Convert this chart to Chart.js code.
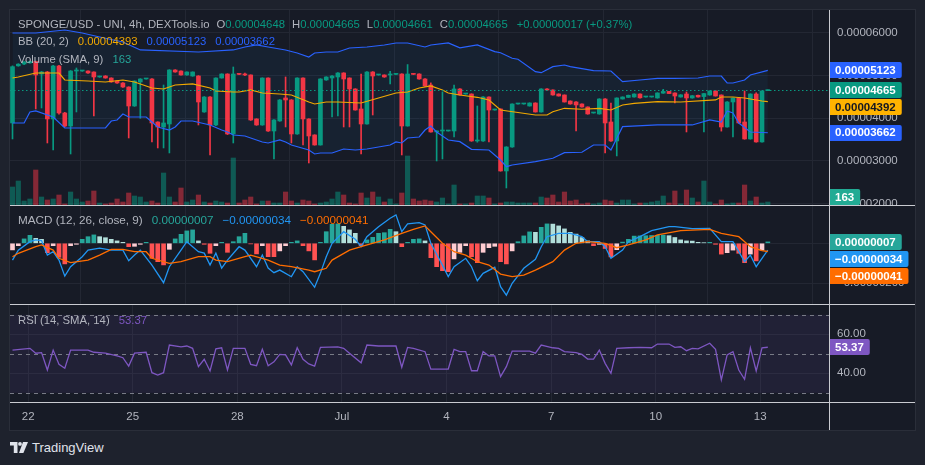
<!DOCTYPE html>
<html>
<head>
<meta charset="utf-8">
<script src="https://cdn.jsdelivr.net/npm/chart.js@4.4.1/dist/chart.umd.min.js"></script>
<style>
  html, body { margin: 0; padding: 0; background: #1e222d; }
  #wrap { position: relative; width: 925px; height: 465px; background: #1e222d; overflow: hidden; font-family: "Liberation Sans", Arial, sans-serif; }
  #frame { position: absolute; left: 10px; top: 10px; width: 905px; height: 420px; background: #171b26; box-shadow: 0 0 0 1px #2a2e39; }
  canvas { position: absolute; left: 10px; }
  .sep { position: absolute; background: #c9cbd1; }
  .lg { position: absolute; left: 18px; font-size: 11.3px; line-height: 14px; color: #b2b5be; white-space: nowrap; }
  .lg .k { margin-left: 7px; }
  .lg .v { margin-left: 9px; }
  .lg.wide { font-size: 11.7px; }
  .logo { position: absolute; left: 10px; top: 440px; display: flex; align-items: center; color: #e0e3eb; font-size: 13px; }
  .logo svg { margin-right: 4px; }
</style>
</head>
<body>
<div id="wrap">
  <div id="frame"></div>
  <canvas id="price" width="905" height="195" style="top:10px"></canvas>
  <canvas id="macd" width="905" height="98" style="top:206px"></canvas>
  <canvas id="rsi" width="905" height="125" style="top:305px"></canvas>

  <div class="sep" style="left:10px; top:205px; width:905px; height:1px"></div>
  <div class="sep" style="left:10px; top:304px; width:905px; height:1px"></div>
  <div class="sep" style="left:10px; top:402px; width:905px; height:1px"></div>
  <div class="sep" style="left:829px; top:10px; width:1px; height:420px"></div>

  <div class="lg" style="top:17px">SPONGE/USD - UNI, 4h, DEXTools.io<span class="k">O</span><span style="color:#089981">0.00004648</span><span class="k">H</span><span style="color:#089981">0.00004665</span><span class="k">L</span><span style="color:#089981">0.00004661</span><span class="k">C</span><span style="color:#089981">0.00004665</span><span class="v" style="color:#089981">+0.00000017 (+0.37%)</span></div>
  <div class="lg" style="top:34px">BB (20, 2)<span class="v" style="color:#f2a900">0.00004393</span><span class="v" style="color:#2962ff">0.00005123</span><span class="v" style="color:#2962ff">0.00003662</span></div>
  <div class="lg" style="top:52px">Volume (SMA, 9)<span class="v" style="color:#26a69a">163</span></div>
  <div class="lg wide" style="top:213px">MACD (12, 26, close, 9)<span class="v" style="color:#26a69a">0.00000007</span><span class="v" style="color:#2196f3">−0.00000034</span><span class="v" style="color:#ff6d00">−0.00000041</span></div>
  <div class="lg" style="top:313px">RSI (14, SMA, 14)<span class="v" style="color:#7e57c2">53.37</span></div>

  <div class="logo">
    <svg width="18" height="11" viewBox="0 0 18 11"><path d="M0 0H7.5V11H3.8V3.6H0Z" fill="#e0e3eb"/><circle cx="10" cy="1.9" r="1.9" fill="#e0e3eb"/><path d="M13 0H18L13.4 11H9Z" fill="#e0e3eb"/></svg>
    <span>TradingView</span>
  </div>
</div>
<script>
// x axis: bar index, ticks at day boundaries
const tickIdx = [2.7, 20.7, 38.7, 56.7, 74.7, 92.7, 110.7, 128.7]
const tickLabels = ["22", "25", "28", "Jul", "4", "7", "10", "13"]
const priceTicks = [2000, 3000, 4000, 5000, 6000]
const macdTicks = [-200, 0]
const rsiTicks = [40, 60]

// 4h candles, prices in 1e-8 USD
const opens = [3891,5230,5273,5300,5330,5039,5086,3985,5227,4125, 3820,5109,5109,5109,5086,4969,4992,4945,4875,4828, 4734,4289,4852,4922,4922,3914,3797,3867,5133,5109, 5016,4992,4992,4149,4500,3844,4945,5039,3633,5039, 5039,5016,3985,3844,4945,3703,3938,4477,4430,3633, 4945,3985,3610,3375,4899,4945,4969,5063,4945,4688, 4219,3867,5086,5016,5016,5016,5030,5039,3820,5039, 5039,4922,4781,3680,3703,3703,3703,4688,4570,4570, 3469,3469,4500,4195,4219,2766,3328,4336,4336,4289, 4359,4149,4688,4664,4570,4547,4406,4383,4336,4266, 4125,4102,4453,3914,3469,4453,4490,4500,4570,4500, 4500,4477,4590,4630,4594,4500,4570,4477,4540,4510, 4547,4641,4547,3797,4383,4477,3914,3516,4570,3446, 4648]
const highs = [5230,5280,5330,5340,5340,5100,5100,5240,5240,4140, 5120,5180,5125,5115,5090,4990,5000,4950,4880,4835, 4740,4880,4930,4940,4930,3920,4781,5140,5140,5115, 5090,5090,5000,4510,4510,4950,5045,5045,5203,5045, 5063,5020,3990,4950,4950,3970,4440,4969,4440,4950, 4950,3990,3615,4930,4975,5000,5070,5070,4950,4695, 5039,5095,5095,5030,5020,5100,5045,5045,5260,5045, 5045,4930,4830,3710,4620,3715,4781,4695,4580,4575, 4289,4510,4505,4215,4225,3335,4340,4345,4350,4365, 4365,4695,4695,4670,4575,4550,4410,4390,4340,4270, 4135,4460,4460,4359,4480,4505,4545,4575,4575,4510, 4510,4600,4680,4635,4600,4555,4617,4535,4545,4585, 4645,4645,4550,4390,4480,4480,4641,4575,4600,4645, 4665]
const lows = [3516,5220,5260,5290,4219,4242,3422,3258,4100,3800, 3164,4149,5100,5055,4055,4960,4940,4845,4820,4725, 3539,4280,4000,4915,3446,3305,3305,3188,5080,5010, 5010,4985,3844,4140,3141,3830,4940,3620,3422,5025, 5000,3950,3835,3835,3695,3047,3930,3797,3422,3625, 3375,2953,3370,3370,4890,4031,4055,3797,3797,4190, 3164,3860,4078,5010,4960,4805,5025,3141,3815,5025, 4915,4750,3675,3000,3047,3700,3563,4540,4565,3460, 3440,3460,3446,4190,2760,2367,3320,4330,4330,4285, 4145,4145,4660,4540,4520,4380,4330,3703,4260,4095, 4120,4095,3188,3460,3118,4450,4485,4495,4475,4495, 4495,4470,4585,4575,4359,4495,3680,4470,4495,3680, 4540,4520,3700,3790,3563,3885,3510,3510,3440,3440, 4648]
const closes = [5210,5270,5320,5330,5016,5086,3985,5227,4125,3820, 5109,5118,5118,5063,4969,4980,4945,4852,4828,4734, 4289,4875,4922,4932,3891,3797,3891,5133,5086,5016, 5086,5086,4383,4500,3844,4945,5039,3633,5039,5030, 5016,3961,3844,4945,3703,3961,4430,4430,3633,4945, 3985,3586,3375,4922,4969,4992,5063,4922,4688,4195, 3867,5086,4992,5022,4969,5022,5040,3820,5039,5030, 4922,4758,3680,3703,3712,3712,4688,4547,4577,3469, 3480,4500,4195,4210,2766,3328,4336,4342,4345,4359, 4149,4688,4664,4547,4523,4383,4336,4313,4266,4102, 4132,4453,3891,3469,4477,4500,4540,4570,4480,4506, 4506,4594,4630,4580,4523,4550,4477,4530,4500,4580, 4641,4523,3797,4383,4477,3891,3516,4570,3446,4641, 4665]
const volumes = [360,480,80,120,700,160,100,120,200,20, 260,120,60,80,280,40,20,40,120,60, 240,180,160,60,80,40,640,160,60,340, 60,100,200,60,40,80,60,40,940,40, 100,160,20,80,80,40,40,260,80,40, 100,80,20,40,60,120,260,200,40,20, 240,140,260,160,60,120,20,240,980,120, 80,100,80,60,140,20,400,20,20,40, 180,180,140,20,40,60,60,40,40,40, 40,160,140,200,60,260,80,100,20,40, 20,40,100,80,40,100,100,20,40,40, 60,80,180,40,280,20,300,140,60,480, 60,20,100,20,40,40,400,80,160,40, 60]

// Bollinger bands [bar, price 1e-8]
const bbUpper = [[0,6000],[4,6000],[9,6070],[12,6000],[15,5906],[19,5789],[22,5602],[32,5555],[38,5602],[40,5672],[42,5719],[44,5672],[47,5602],[49,5531],[51,5437],[52,5531],[54,5555],[56,5555],[58,5648],[61,5672],[64,5719],[66,5766],[68,5766],[71,5672],[72,5719],[75,5766],[77,5650],[80,5719],[83,5562],[84,5538],[86,5407],[87,5384],[90,5093],[91,5069],[93,5210],[95,5250],[96,5210],[100,5116],[103,5109],[105,4858],[108,4898],[111,4938],[114,4938],[118,4945],[120,4992],[122,4992],[123,4828],[124,4828],[126,4898],[127,5016],[130,5123]]
const bbBasis = [[0,4945],[1,4969],[4,5062],[8,5062],[9,4898],[13,4875],[16,4851],[19,4898],[21,4851],[24,4711],[26,4687],[28,4781],[31,4805],[34,4711],[35,4640],[38,4617],[39,4617],[41,4664],[43,4594],[46,4570],[48,4547],[51,4383],[52,4336],[54,4383],[56,4383],[60,4359],[63,4476],[66,4594],[68,4617],[70,4711],[72,4758],[74,4664],[75,4594],[77,4547],[80,4493],[82,4430],[84,4195],[90,4078],[92,4078],[93,4155],[95,4235],[98,4212],[101,4235],[103,4195],[105,4312],[107,4352],[111,4390],[115,4383],[121,4430],[122,4500],[124,4500],[126,4476],[129,4406],[130,4392]]
const bbLower = [[0,3890],[2,3890],[3,4148],[4,4172],[7,4031],[9,3773],[16,3773],[17,3937],[18,3961],[19,4101],[20,4031],[23,4031],[24,3914],[25,3797],[27,3726],[28,3797],[29,3937],[31,3937],[34,3844],[36,3726],[37,3679],[38,3609],[40,3586],[43,3445],[44,3422],[46,3492],[47,3445],[48,3375],[51,3257],[52,3164],[53,3187],[55,3187],[57,3281],[59,3257],[61,3281],[63,3328],[65,3375],[66,3445],[67,3422],[68,3539],[70,3562],[71,3726],[72,3820],[73,3679],[75,3492],[77,3452],[79,3274],[82,3257],[84,3023],[85,2866],[86,2906],[90,2983],[93,3063],[95,3194],[98,3204],[100,3375],[102,3375],[103,3257],[105,3804],[111,3844],[117,3844],[120,3961],[122,3914],[123,4172],[124,4125],[125,3890],[127,3679],[130,3662]]

// MACD, 1e-8 units
const macdHist = [-33,-12,22,40,25,20,-47,-12,-70,-103, -12,-5,20,33,42,33,28,20,12,5, -17,-15,-5,5,-75,-92,-108,-30,22,45, 62,67,12,-5,-50,-12,5,-45,8,33, 50,-3,-53,-12,-67,-67,-38,-12,5,12, -12,-38,-83,5,58,95,97,85,67,50, -12,17,30,50,53,70,58,-17,5,20, 22,12,-72,-117,-137,-142,-78,-45,-12,-67, -97,-45,-22,-15,-92,-103,-38,8,37,57, 55,80,97,96,87,72,55,46,29,12, -12,-5,-26,-68,-32,6,20,36,37,38, 39,40,41,38,29,17,12,11,5,3, 5,-5,-54,-47,-34,-50,-97,-54,-88,-34, 7]
const macdLine = [[0,-84],[1,-34],[3,8],[4,17],[5,13],[6,-59],[7,-42],[8,-84],[9,-164],[10,-117],[12,-67],[13,-34],[15,-24],[17,-34],[19,-34],[20,-87],[21,-59],[22,-34],[24,-109],[26,-197],[27,-117],[29,-34],[30,8],[32,-42],[33,-49],[34,-109],[35,-49],[36,-124],[37,-84],[39,-17],[40,-34],[42,-117],[43,-59],[44,-124],[45,-147],[46,-134],[48,-167],[49,-117],[50,-142],[52,-220],[53,-149],[54,-67],[55,0],[57,58],[59,20],[60,-17],[61,33],[63,83],[65,125],[66,142],[67,58],[68,97],[70,103],[71,92],[72,0],[74,-109],[75,-167],[76,-117],[78,-75],[79,-117],[80,-187],[81,-150],[83,-120],[84,-217],[85,-259],[86,-200],[88,-125],[90,-80],[91,-17],[92,33],[94,50],[96,50],[98,33],[99,8],[101,8],[102,-17],[103,-75],[105,-34],[106,8],[108,33],[110,63],[113,83],[114,83],[117,73],[120,75],[122,8],[124,8],[125,-42],[126,-92],[127,-59],[128,-117],[129,-75],[130,-34]]
const signalLine = [[0,-67],[1,-50],[4,-17],[5,-8],[7,-34],[8,-75],[10,-97],[13,-84],[15,-59],[17,-30],[19,-30],[21,-42],[23,-42],[24,-75],[27,-100],[29,-92],[32,-67],[34,-67],[35,-84],[37,-92],[40,-67],[41,-59],[44,-84],[46,-109],[48,-117],[51,-134],[52,-142],[54,-125],[55,-84],[58,-34],[60,-17],[64,17],[67,50],[69,70],[71,87],[72,58],[74,0],[76,-42],[78,-59],[80,-92],[82,-109],[84,-154],[86,-167],[88,-159],[90,-134],[93,-92],[95,-34],[97,0],[99,8],[102,0],[104,-22],[106,-8],[109,17],[111,42],[115,63],[120,70],[122,50],[125,33],[127,-17],[129,-37],[130,-41]]

// RSI [bar, value]
const rsiLine = [[0,51.9],[3,52.8],[4,50.3],[5,50.6],[6,41.7],[7,51.9],[8,44.6],[9,42.6],[10,51.9],[13,51.9],[14,50.8],[16,50.3],[18,48.9],[19,48],[20,43.7],[21,50.3],[23,50.8],[24,40.3],[25,39.1],[26,40.3],[27,54.5],[29,53.6],[30,54],[31,52.8],[32,43.4],[33,47.2],[34,41.2],[35,52.5],[36,53.1],[37,41.7],[38,52.8],[40,52.8],[41,44.6],[42,43.9],[43,52.3],[44,43.9],[45,45.9],[46,49.7],[47,49.4],[48,44.3],[49,53.1],[50,47.2],[51,44.8],[52,43.7],[53,53.3],[56,53.6],[57,52.8],[58,50.3],[60,45.4],[61,54.5],[63,54],[66,54],[67,43.1],[68,53.3],[69,52.8],[71,51.1],[72,42.1],[75,42.2],[76,52.3],[77,51.1],[78,51.1],[79,41.3],[80,41.3],[81,51.1],[82,48.9],[83,48.9],[84,38.3],[85,43.4],[86,51.4],[89,51.4],[90,50.3],[91,54.5],[93,53.1],[94,52.8],[95,51.1],[97,50.6],[98,49.7],[99,47.3],[100,47.3],[101,51.9],[102,45.1],[103,40],[104,52.8],[106,53.1],[108,53.3],[110,53.1],[111,55],[113,55],[114,53.3],[115,53.6],[116,51.6],[117,52.8],[118,52.5],[120,55.4],[121,52.3],[122,36.6],[123,49.4],[124,51.1],[125,41.7],[126,36.9],[127,53.1],[128,41.2],[129,53.1],[130,53.37]]

const GRID = "#232733"
const TEXT = "#b2b5be"
const UP = "#089981"
const DOWN = "#f23645"
const xMin = -0.43
const xMax = 140.53

Chart.defaults.font.family = "'Liberation Sans', Arial, sans-serif"
Chart.defaults.font.size = 11.5

const pts = arr => arr.map(([x, y]) => ({ x, y }))
const bars = opens.map((_, i) => i)
const isUp = i => closes[i] >= opens[i]

function fmtPrice(v) {
  const s = (Math.abs(v) / 1e8).toFixed(8)
  return v < 0 ? "\u2212" + s : s
}

function xScale(showLabels) {
  return {
    type: "linear", min: xMin, max: xMax, offset: false,
    grid: { color: GRID, drawTicks: false },
    border: { display: false },
    ticks: {
      display: showLabels, color: TEXT, padding: 8, maxRotation: 0, autoSkip: false,
      callback: v => tickLabels[tickIdx.indexOf(v)] ?? ""
    },
    afterBuildTicks: s => { s.ticks = tickIdx.map(v => ({ value: v })) },
    afterFit: s => {
      s.height = showLabels ? 28 : 0
      s.paddingLeft = 0
      s.paddingRight = 0
    }
  }
}

function yRight(min, max, ticks, fmt) {
  return {
    position: "right", min, max,
    grid: { color: GRID, drawTicks: false },
    border: { display: false },
    ticks: { color: TEXT, padding: 8, callback: fmt },
    afterBuildTicks: s => { s.ticks = ticks.map(v => ({ value: v })) },
    afterFit: s => {
      s.width = 86
      s.paddingTop = 0
      s.paddingBottom = 0
    }
  }
}

// coloured value tags on the right axis
function tagPlugin(tags) {
  return {
    id: "tags",
    afterDraw(chart) {
      const ctx = chart.ctx
      const left = chart.chartArea.right
      ctx.save()
      ctx.font = "bold 11.5px 'Liberation Sans', Arial, sans-serif"
      ctx.textBaseline = "middle"
      const placed = tags.map(t => Object.assign({}, t, { y: chart.scales[t.axis || "y"].getPixelForValue(t.value) }))
      placed.sort((a, b) => a.y - b.y)
      for (let k = 1; k < placed.length; k++) {
        if (!placed[k].free && placed[k].y - placed[k - 1].y < 17) placed[k].y = placed[k - 1].y + 17
      }
      placed.forEach(t => {
        const w = ctx.measureText(t.text).width + 12
        ctx.fillStyle = t.bg
        ctx.beginPath()
        ctx.roundRect(left, Math.round(t.y - 8), w, 16, [0, 2, 2, 0])
        ctx.fill()
        ctx.fillStyle = t.fg
        ctx.fillText(t.text, left + 6, t.y + 0.5)
      })
      ctx.restore()
    }
  }
}

const lastLine = {
  id: "lastLine",
  afterDatasetsDraw(chart) {
    const { ctx, chartArea } = chart
    const y = Math.round(chart.scales.y.getPixelForValue(closes[closes.length - 1])) + 0.5
    ctx.save()
    ctx.strokeStyle = UP
    ctx.setLineDash([1.5, 2.5])
    ctx.lineWidth = 1
    ctx.beginPath()
    ctx.moveTo(chartArea.left, y)
    ctx.lineTo(chartArea.right, y)
    ctx.stroke()
    ctx.restore()
  }
}

const common = {
  responsive: false,
  animation: false,
  events: [],
  layout: { padding: 0, autoPadding: false },
  plugins: { legend: { display: false }, tooltip: { enabled: false }, filler: { drawTime: "beforeDatasetsDraw" } }
}

new Chart(document.getElementById("price"), {
  type: "bar",
  data: {
    datasets: [
      { type: "line", data: pts(bbUpper), borderColor: "#2962ff", borderWidth: 1.2, pointRadius: 0, order: 0 },
      { type: "line", data: pts(bbLower), borderColor: "#2962ff", borderWidth: 1.2, pointRadius: 0, order: 0, fill: { target: 0 }, backgroundColor: "rgba(33,150,243,0.06)" },
      { type: "line", data: pts(bbBasis), borderColor: "#f2a900", borderWidth: 1.2, pointRadius: 0, order: 0 },
      { data: bars.map(i => ({ x: i, y: [opens[i], closes[i]] })), backgroundColor: bars.map(i => isUp(i) ? UP : DOWN), barThickness: 4, minBarLength: 1, grouped: false, order: 1 },
      { data: bars.map(i => ({ x: i, y: [lows[i], highs[i]] })), backgroundColor: bars.map(i => isUp(i) ? UP : DOWN), barThickness: 1, grouped: false, order: 2 },
      { data: bars.map(i => ({ x: i, y: volumes[i] })), yAxisID: "yv", backgroundColor: bars.map(i => isUp(i) ? "rgba(8,153,129,0.5)" : "rgba(242,54,69,0.5)"), barThickness: 4.5, grouped: false, order: 3 }
    ]
  },
  options: Object.assign({}, common, {
    scales: {
      x: xScale(false),
      y: yRight(1968, 6539, priceTicks, v => fmtPrice(v)),
      yv: { display: false, min: 0, max: 3900 }
    }
  }),
  plugins: [lastLine, tagPlugin([
    { value: 5123, text: "0.00005123", bg: "#2962ff", fg: "#ffffff" },
    { value: 4665, text: "0.00004665", bg: UP, fg: "#ffffff" },
    { value: 4392, text: "0.00004392", bg: "#ffb300", fg: "#131722" },
    { value: 3662, text: "0.00003662", bg: "#2962ff", fg: "#ffffff" },
    { value: 163, axis: "yv", text: "163", bg: "#22ab94", fg: "#ffffff", free: true }
  ])]
})

const histColors = macdHist.map((v, i) => {
  if (i === 0) return "#ffcdd2"
  const prev = macdHist[i - 1]
  if (v >= 0) return v > prev ? "#26a69a" : "#b2dfdb"
  return v > prev ? "#ffcdd2" : "#ff5252"
})

new Chart(document.getElementById("macd"), {
  type: "bar",
  data: {
    datasets: [
      { type: "line", data: pts(signalLine), borderColor: "#ff6d00", borderWidth: 1.3, pointRadius: 0, order: 0 },
      { type: "line", data: pts(macdLine), borderColor: "#2196f3", borderWidth: 1.3, pointRadius: 0, order: 1 },
      { data: bars.map(i => ({ x: i, y: macdHist[i] })), backgroundColor: histColors, barThickness: 4, grouped: false, order: 2 }
    ]
  },
  options: Object.assign({}, common, {
    scales: {
      x: xScale(false),
      y: yRight(-303.5, 186.5, macdTicks, v => fmtPrice(v))
    }
  }),
  plugins: [tagPlugin([
    { value: 7, text: "0.00000007", bg: "#26a69a", fg: "#ffffff" },
    { value: -34, text: "\u22120.00000034", bg: "#2196f3", fg: "#ffffff" },
    { value: -41, text: "\u22120.00000041", bg: "#ff6d00", fg: "#ffffff" }
  ])]
})

const rsiBands = {
  id: "rsiBands",
  beforeDatasetsDraw(chart) {
    const { ctx, chartArea } = chart
    const y = chart.scales.y
    const y70 = y.getPixelForValue(70), y30 = y.getPixelForValue(30)
    ctx.save()
    ctx.fillStyle = "rgba(126,87,194,0.1)"
    ctx.fillRect(chartArea.left, y70, chartArea.right - chartArea.left, y30 - y70)
    ctx.strokeStyle = "#787b86"
    ctx.lineWidth = 1
    ctx.setLineDash([4, 4])
    ;[70, 50, 30].forEach(v => {
      const py = Math.round(y.getPixelForValue(v)) + 0.5
      ctx.beginPath()
      ctx.moveTo(chartArea.left, py)
      ctx.lineTo(chartArea.right, py)
      ctx.stroke()
    })
    ctx.restore()
  }
}

new Chart(document.getElementById("rsi"), {
  type: "line",
  data: {
    datasets: [
      { data: pts(rsiLine), borderColor: "#7e57c2", borderWidth: 1.3, pointRadius: 0 }
    ]
  },
  options: Object.assign({}, common, {
    scales: {
      x: xScale(true),
      y: yRight(25.28, 75.03, rsiTicks, v => v.toFixed(2))
    }
  }),
  plugins: [rsiBands, tagPlugin([
    { value: 53.37, text: "53.37", bg: "#7e57c2", fg: "#ffffff" }
  ])]
})
</script>
</body>
</html>
